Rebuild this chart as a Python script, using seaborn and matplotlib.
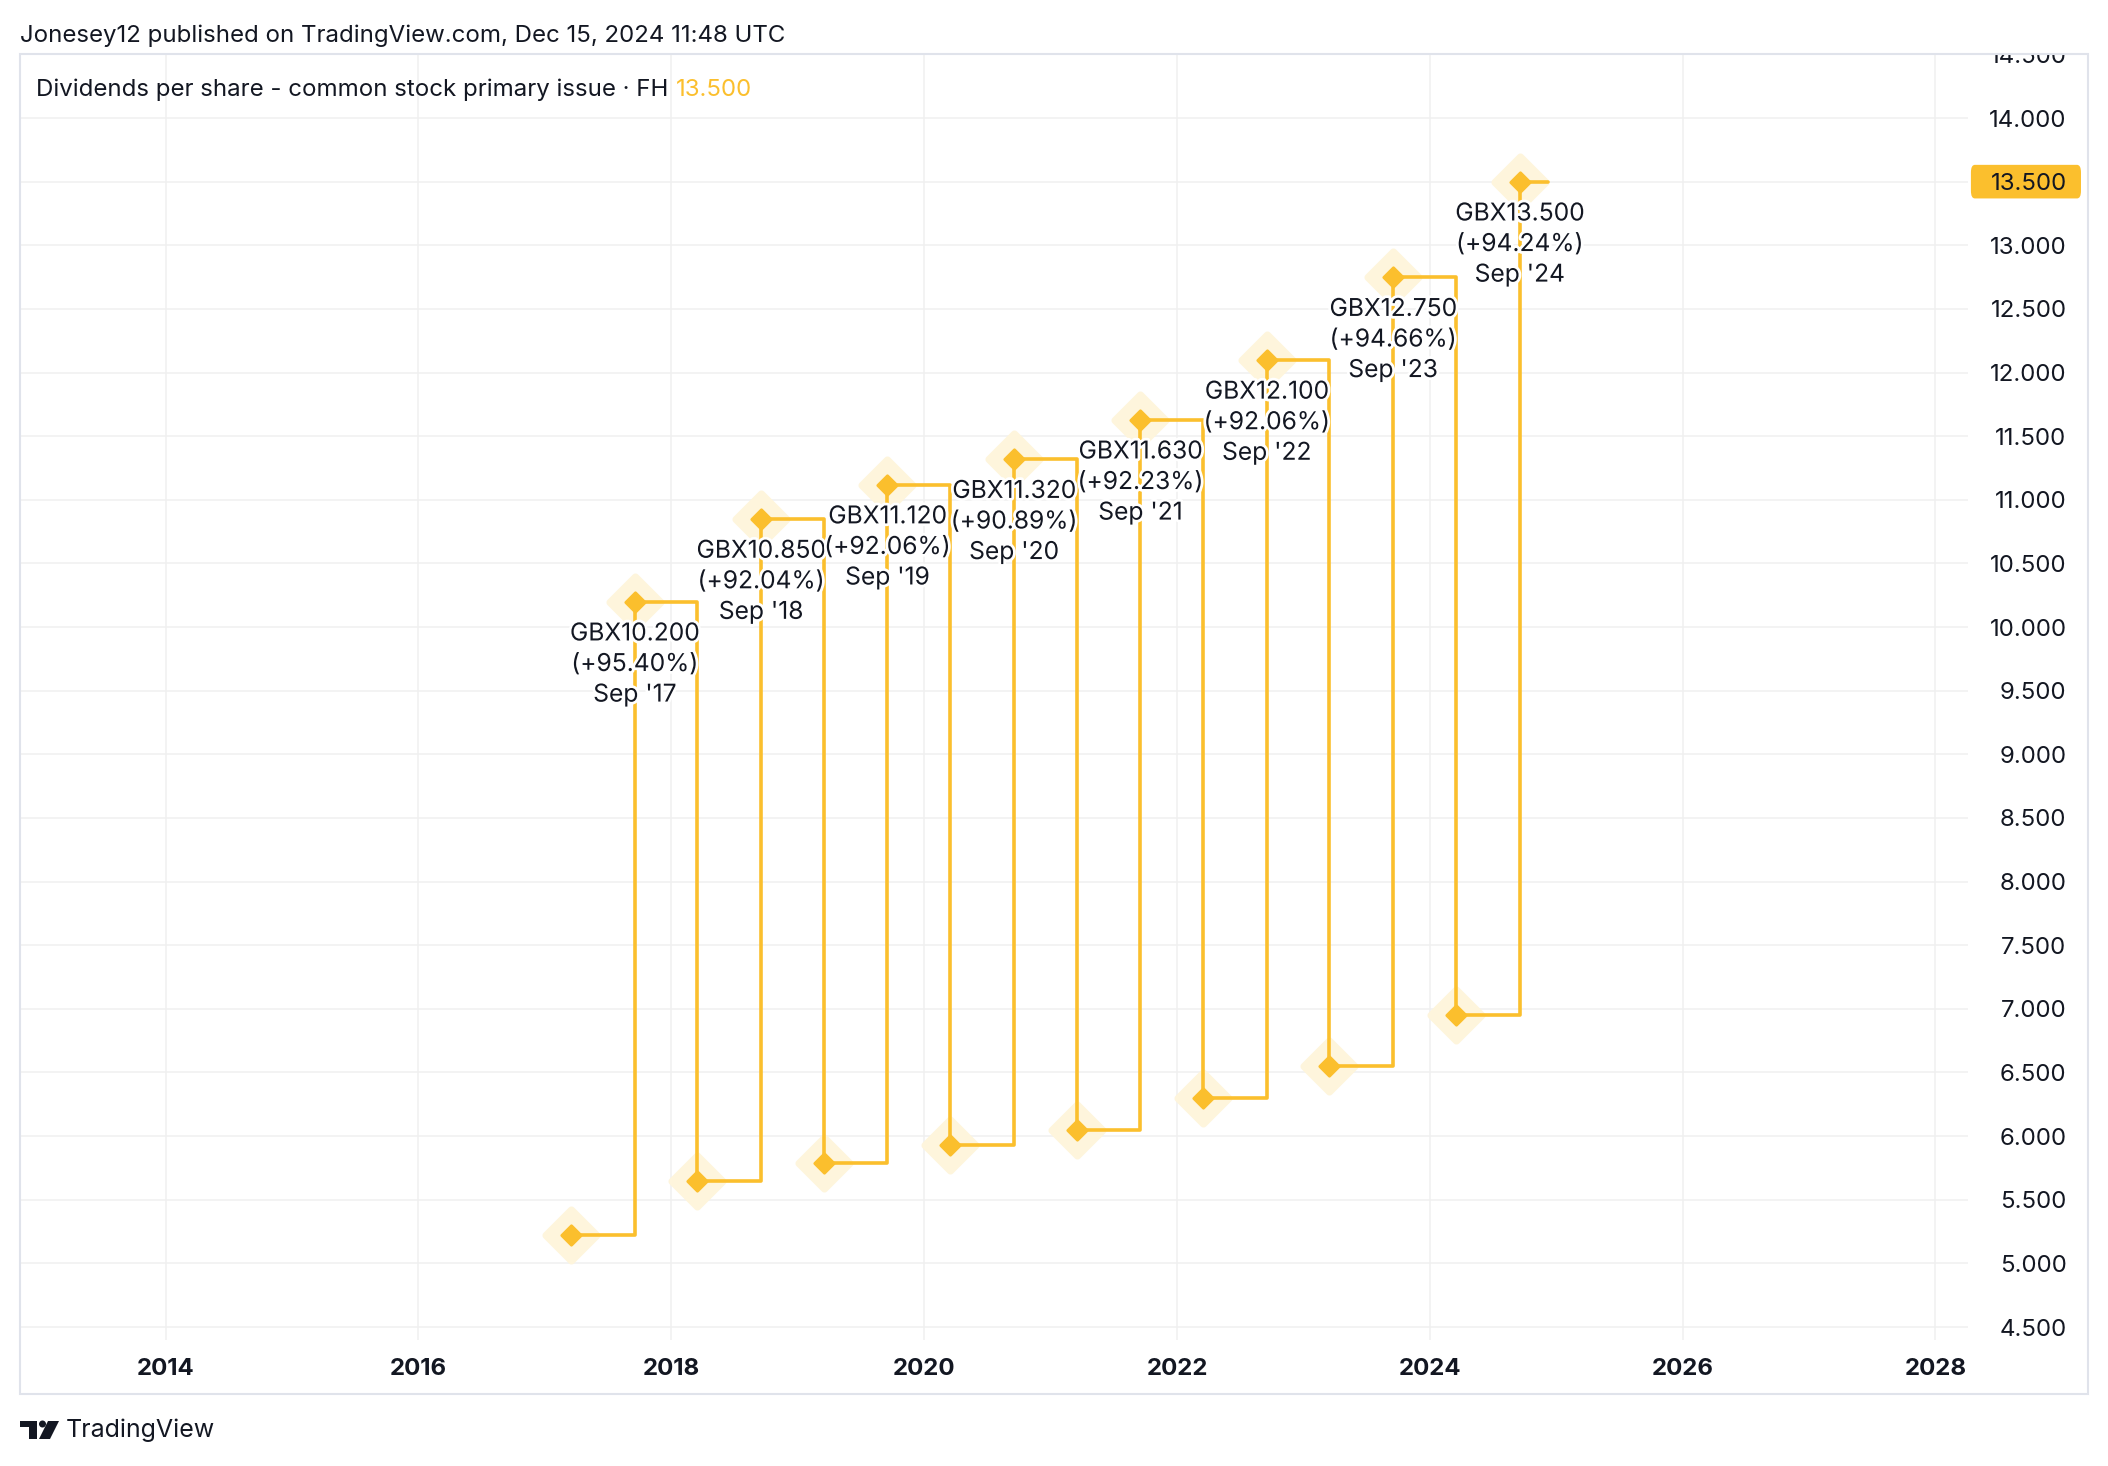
import pandas as pd
import numpy as np
import matplotlib
matplotlib.use("Agg")
import matplotlib.pyplot as plt
import matplotlib.patheffects as pe
from matplotlib.patches import Rectangle, Polygon, Ellipse, FancyBboxPatch
from matplotlib.markers import MarkerStyle
import seaborn as sns

# dividend data (FH = fiscal half)
dates = ['2017-03-17', '2017-09-17', '2018-03-17', '2018-09-17', '2019-03-17', '2019-09-17',
         '2020-03-17', '2020-09-17', '2021-03-17', '2021-09-17', '2022-03-17', '2022-09-17',
         '2023-03-17', '2023-09-17', '2024-03-17', '2024-09-17']
dps = [5.22, 10.20, 5.65, 10.85, 5.79, 11.12, 5.93, 11.32,
       6.05, 11.63, 6.30, 12.10, 6.55, 12.75, 6.95, 13.50]
last_date = '2024-12-08'   # line runs on to the snapshot date
year_ticks = [2014, 2016, 2018, 2020, 2022, 2024, 2026, 2028]
price_ticks = np.arange(4.5, 14.51, 0.5)

YELLOW = '#FBBF2D'
HALO = '#FEF5DC'
TXT = '#131722'
GRID = '#F0F0F0'
FS = 17.3

df = pd.DataFrame({'date': pd.to_datetime(dates), 'dps': dps})
line_df = pd.concat([df, pd.DataFrame({'date': [pd.Timestamp(last_date)], 'dps': [dps[-1]]})],
                    ignore_index=True)
highs = df.iloc[1::2].reset_index(drop=True)
lows = df.iloc[0::2].reset_index(drop=True)

W, H = 2108, 1466
sns.set_theme(style='white')
plt.rcParams['font.family'] = ['Inter', 'DejaVu Sans']
fig = plt.figure(figsize=(W / 100, H / 100), dpi=100)
ax = fig.add_axes([20 / W, 1 - 1340 / H, 1948 / W, 1286 / H])
ax.set_axisbelow(True)

# halos, step line, markers
sns.scatterplot(data=df, x='date', y='dps', ax=ax, marker=MarkerStyle('D', joinstyle='round'),
                s=680, color=HALO, edgecolor=HALO, linewidth=5, zorder=2, legend=False)
sns.lineplot(data=line_df, x='date', y='dps', ax=ax, drawstyle='steps-post', estimator=None,
             color=YELLOW, linewidth=2.6, zorder=3)
sns.scatterplot(data=df, x='date', y='dps', ax=ax, marker=MarkerStyle('D', joinstyle='round'),
                s=95, color=YELLOW, edgecolor=YELLOW, linewidth=2.2, zorder=4, legend=False)

# value labels under each final dividend
for i, row in highs.iterrows():
    pct = (row['dps'] / lows.loc[i, 'dps'] - 1) * 100
    label = f"GBX{row['dps']:.3f}\n(+{pct:.2f}%)\n{row['date'].strftime('%b')} '{row['date'].strftime('%y')}"
    ax.annotate(label, xy=(row['date'], row['dps']), xytext=(0, -15), textcoords='offset points',
                ha='center', va='top', fontsize=FS + 0.4, color=TXT, linespacing=1.42, zorder=6,
                path_effects=[pe.withStroke(linewidth=4, foreground='white')])

ax.set_xlim(pd.Timestamp('2012-11-06'), pd.Timestamp('2028-04-04'))
ax.set_ylim(4.398, 14.503)
ax.set_xticks(pd.to_datetime([f'{y}-01-01' for y in year_ticks]))
ax.set_xticklabels([str(y) for y in year_ticks], fontweight='bold')
ax.set_yticks(price_ticks)
ax.set_yticklabels([f'{v:.3f}' for v in price_ticks])
ax.yaxis.tick_right()
ax.tick_params(axis='y', length=0, pad=71, labelsize=FS, labelcolor=TXT)
ax.tick_params(axis='x', length=0, pad=13, labelsize=FS, labelcolor=TXT)
plt.setp(ax.get_yticklabels(), ha='right')
ax.grid(True, color=GRID, linewidth=1.1)
ax.set_xlabel('')
ax.set_ylabel('')
for s in ax.spines.values():
    s.set_visible(False)

# last value badge on the price scale
ax.add_patch(FancyBboxPatch((1.0015, 13.5 - 0.132), 0.0565, 0.264, boxstyle='round,pad=0,rounding_size=0.002',
                            transform=ax.get_yaxis_transform(), facecolor=YELLOW, edgecolor='none',
                            clip_on=False, zorder=7, mutation_aspect=30))
ax.text((2067 - 20) / 1948, 13.5, '13.500', transform=ax.get_yaxis_transform(), ha='right',
        va='center_baseline', fontsize=FS, color=TXT, zorder=8, clip_on=False)


def fx(px):
    return px / W


def fy(py):
    return 1 - py / H


# hide the part of the top tick label above the frame
fig.add_artist(Rectangle((fx(1900), fy(53)), fx(208), 53 / H, transform=fig.transFigure,
                         facecolor='white', edgecolor='none', zorder=10))
# outer frame
fig.add_artist(Rectangle((fx(20), fy(1394)), fx(2068), 1340 / H, transform=fig.transFigure,
                         facecolor='none', edgecolor='#E0E3EB', linewidth=1.5, zorder=11))

fig.text(fx(20), fy(36), 'Jonesey12 published on TradingView.com, Dec 15, 2024 11:48 UTC',
         ha='left', va='center', fontsize=FS, color=TXT, zorder=12)
fig.text(fx(36), fy(90), 'Dividends per share - common stock primary issue · FH',
         ha='left', va='center', fontsize=FS, color=TXT, zorder=12)
fig.text(fx(676), fy(90), f'{dps[-1]:.3f}', ha='left', va='center', fontsize=FS,
         color=YELLOW, zorder=12)

# TradingView logo
logo = '#131722'
fig.add_artist(Polygon([(fx(20), fy(1421)), (fx(37), fy(1421)), (fx(37), fy(1439)), (fx(29), fy(1439)),
                        (fx(29), fy(1427)), (fx(20), fy(1427))], closed=True, transform=fig.transFigure,
                       facecolor=logo, edgecolor='none', zorder=12))
fig.add_artist(Ellipse((fx(42.5), fy(1424)), 7 / W, 7 / H, transform=fig.transFigure,
                       facecolor=logo, edgecolor='none', zorder=12))
fig.add_artist(Polygon([(fx(48), fy(1421)), (fx(59), fy(1421)), (fx(50), fy(1439)), (fx(39), fy(1439))],
                       closed=True, transform=fig.transFigure, facecolor=logo, edgecolor='none', zorder=12))
fig.text(fx(66), fy(1430), 'TradingView', ha='left', va='center', fontsize=18, color=TXT, zorder=12)

fig.savefig('out.png', dpi=100, facecolor='white')
